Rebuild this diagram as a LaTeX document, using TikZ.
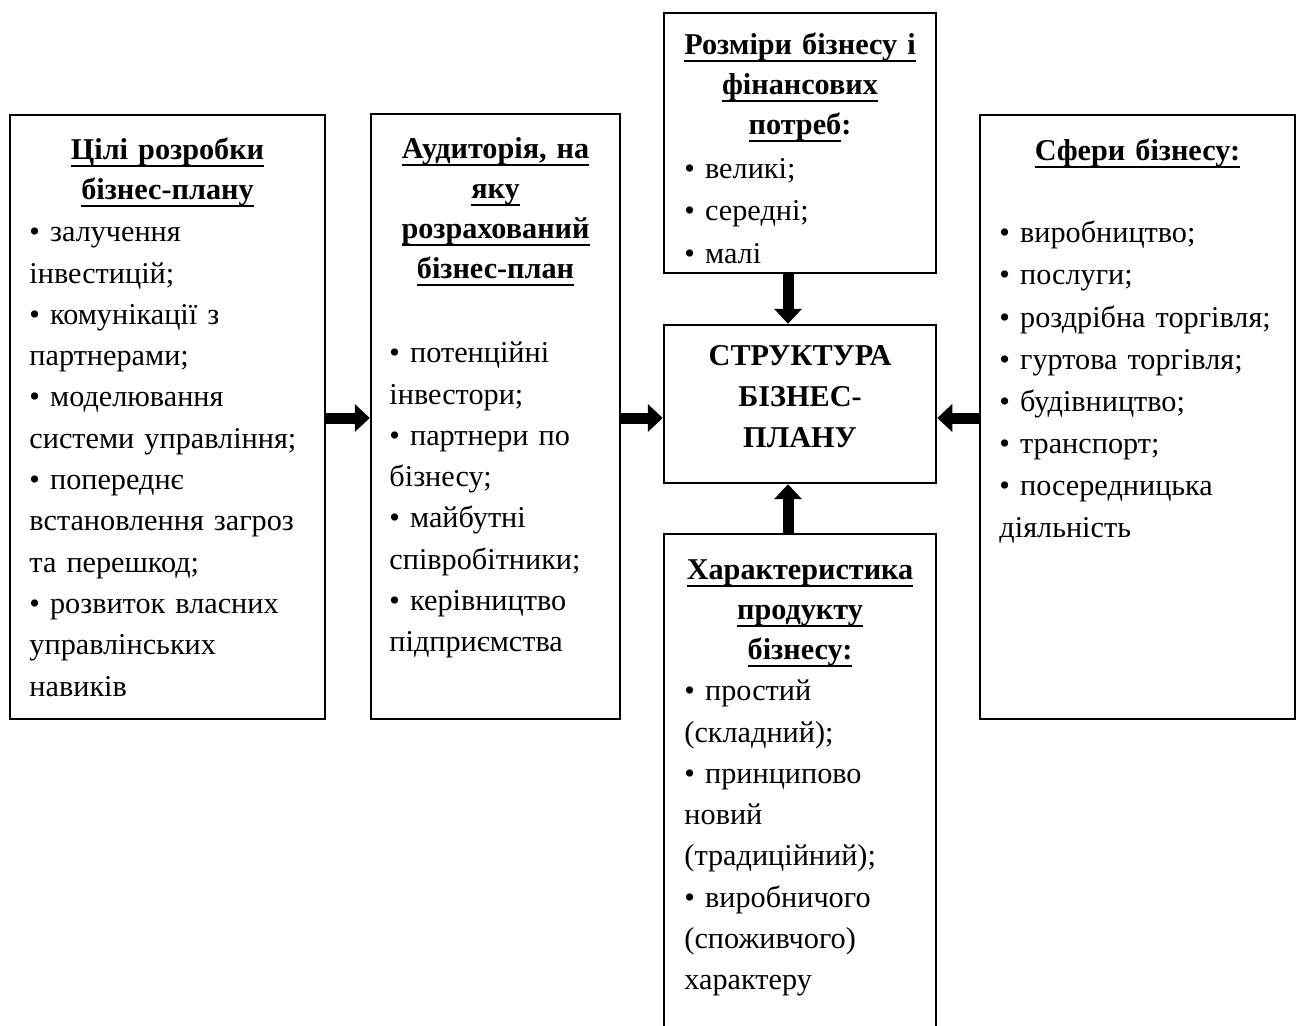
\documentclass[tikz,border=0pt]{standalone}
\usepackage{fontspec}
\setmainfont{Liberation Serif}
\usetikzlibrary{arrows.meta}
% underline at a fixed depth, as a word processor draws it
\newcommand{\hdline}[1]{\leavevmode\setbox0\hbox{#1}\rlap{\vrule height -1.4pt depth 2.1pt width \wd0}\box0}

\begin{document}
\begin{tikzpicture}[
  blk/.style={
    % The shape:
    rectangle,
    % The border
    draw=black, line width=0.7pt,
    inner sep=0pt},
  head/.style={
    % Font
    font=\bfseries\fontsize{8.6}{11.4}\selectfont,
    align=center, inner sep=0pt, anchor=base},
  items/.style={
    font=\fontsize{8.6}{11.75}\selectfont,
    align=left, inner sep=0pt, anchor=base west},
  bigarrow/.style={-{Triangle[width=0.27cm,length=0.15cm]}, line width=0.11cm}]
  \useasboundingbox (0,0) rectangle (13,-10.25);
  \clip (0,0) rectangle (13,-10.25);

  % boxes
  \node[blk, minimum width=3.15cm, minimum height=6.04cm] (goals) at (1.675,-4.17) {};
  \node[blk, minimum width=2.49cm, minimum height=6.05cm] (audience) at (4.955,-4.165) {};
  \node[blk, minimum width=2.72cm, minimum height=2.60cm] (size) at (8.0,-1.43) {};
  \node[blk, minimum width=2.72cm, minimum height=1.58cm] (core) at (8.0,-4.04) {};
  \node[blk, minimum width=2.72cm, minimum height=5.26cm] (product) at (8.0,-7.97) {};
  \node[blk, minimum width=3.15cm, minimum height=6.04cm] (spheres) at (11.375,-4.17) {};

  % titles
  \node[head, text width=3.05cm] (goalsT) at ([yshift=-0.46cm]goals.north)
    {\hdline{Цілі розробки}\\\hdline{бізнес-плану}};
  \node[head, text width=2.45cm] (audienceT) at ([yshift=-0.46cm]audience.north)
    {\hdline{Аудиторія, на}\\\hdline{яку}\\\hdline{розрахований}\\\hdline{бізнес-план}};
  \node[head, text width=2.65cm] (sizeT) at ([yshift=-0.43cm]size.north)
    {\hdline{Розміри бізнесу і}\\\hdline{фінансових}\\\hdline{потреб}:};
  \node[head, text width=2.65cm, font=\bfseries\fontsize{8.6}{11.6}\selectfont] (coreT) at ([yshift=-0.42cm]core.north)
    {СТРУКТУРА\\БІЗНЕС-\\ПЛАНУ};
  \node[head, text width=2.65cm] (productT) at ([yshift=-0.47cm]product.north)
    {\hdline{Характеристика}\\\hdline{продукту}\\\hdline{бізнесу:}};
  \node[head, text width=3.05cm] (spheresT) at ([yshift=-0.47cm]spheres.north)
    {\hdline{Сфери бізнесу:}};

  % lists
  \node[items, text width=2.95cm] (goalsL) at ([shift={(0.20,-1.28)}]goals.north west)
    {• залучення\\інвестицій;\\• комунікації з\\партнерами;\\• моделювання\\системи управління;\\• попереднє\\встановлення загроз\\та перешкод;\\• розвиток власних\\управлінських\\навиків};
  \node[items, text width=2.30cm] (audienceL) at ([shift={(0.19,-2.50)}]audience.north west)
    {• потенційні\\інвестори;\\• партнери по\\бізнесу;\\• майбутні\\співробітники;\\• керівництво\\підприємства};
  \node[items, text width=2.50cm, font=\fontsize{8.6}{12}\selectfont] (sizeL) at ([shift={(0.21,-1.67)}]size.north west)
    {• великі;\\• середні;\\• малі};
  \node[items, text width=2.50cm] (productL) at ([shift={(0.21,-1.68)}]product.north west)
    {• простий\\(складний);\\• принципово\\новий\\(традиційний);\\• виробничого\\(споживчого)\\характеру};
  \node[items, text width=2.95cm, font=\fontsize{8.6}{12}\selectfont] (spheresL) at ([shift={(0.20,-1.29)}]spheres.north west)
    {• виробництво;\\• послуги;\\• роздрібна торгівля;\\• гуртова торгівля;\\• будівництво;\\• транспорт;\\• посередницька\\діяльність};

  % arrows
  \coordinate (lvl) at (0,-4.18);
  \coordinate (col) at (7.88,0);
  \foreach \a/\b in {goals/audience, audience/core} {
    \draw[bigarrow] (\a.east |- lvl) -- (\b.west |- lvl);
  }
  \draw[bigarrow] (spheres.west |- lvl) -- (core.east |- lvl);
  \draw[bigarrow] (size.south -| col) -- (core.north -| col);
  \draw[bigarrow] (product.north -| col) -- (core.south -| col);
\end{tikzpicture}
\end{document}
